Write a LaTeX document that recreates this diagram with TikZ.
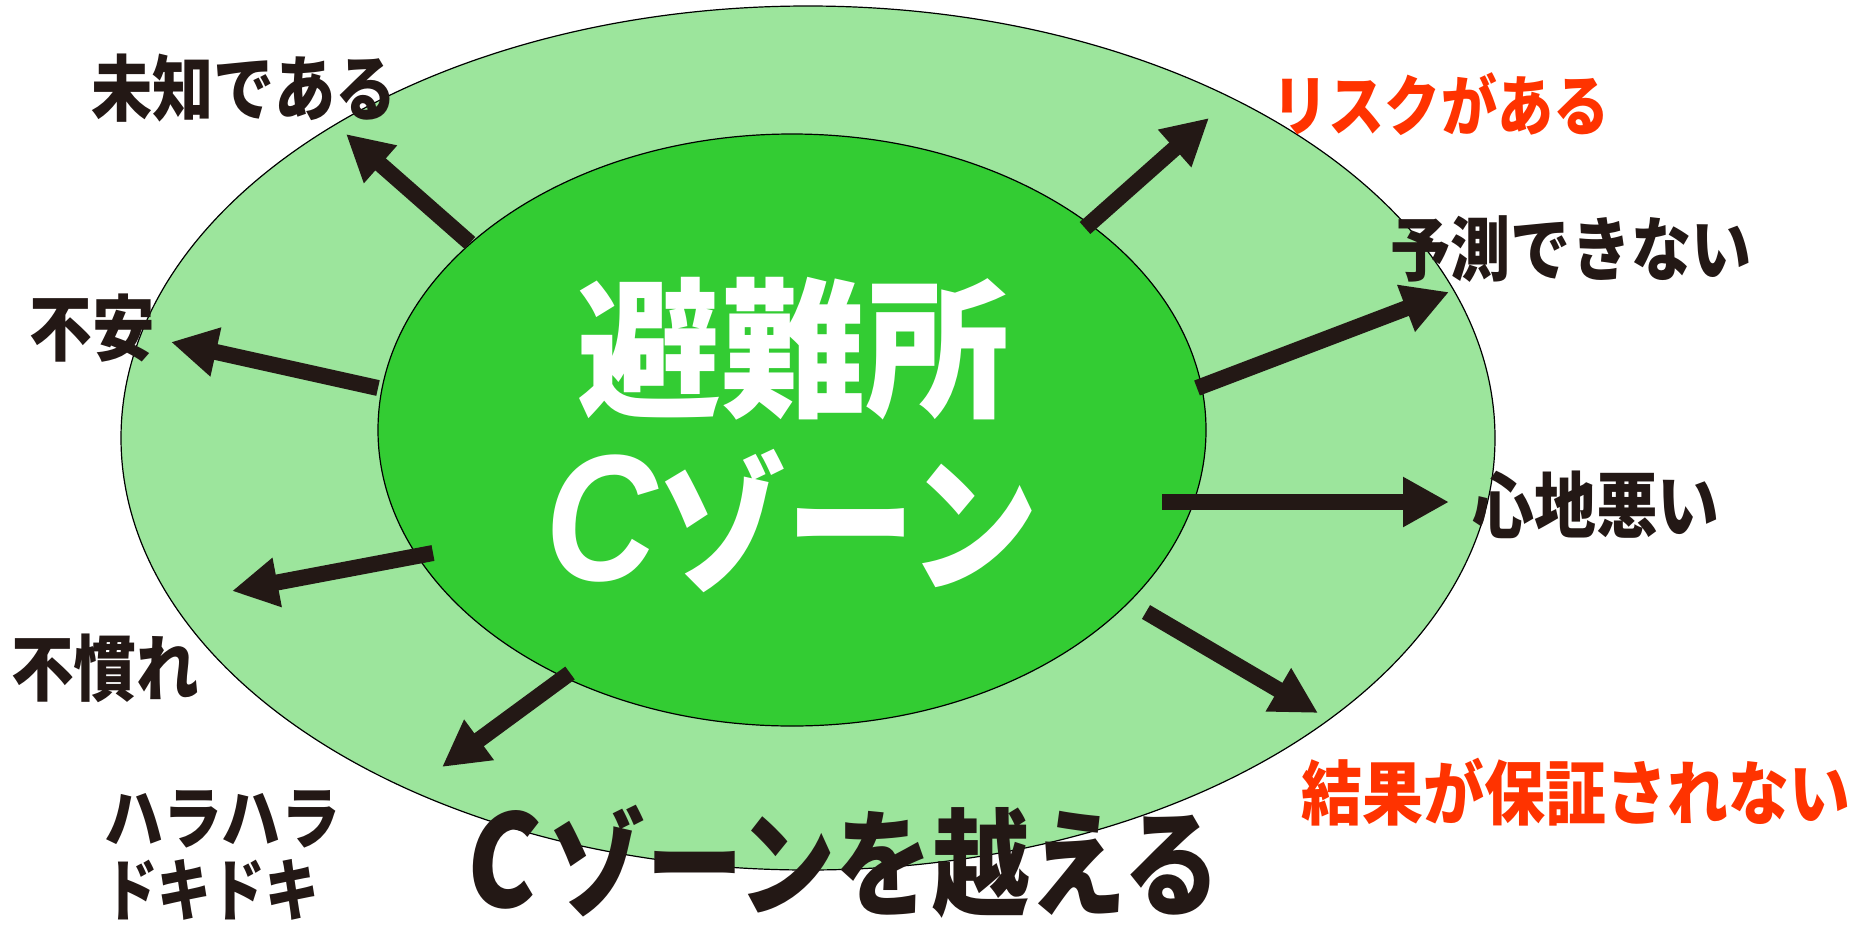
\documentclass[tikz,border=0pt]{standalone}
\usepackage{fontspec}
\usepackage{graphicx}
\usetikzlibrary{arrows.meta,shapes.geometric}
\newfontfamily\jp{Noto Sans CJK JP}
\newfontfamily\jpslant{Noto Sans CJK JP}[FakeSlant=0.12]
\newfontfamily\lat{Liberation Sans}
\definecolor{ink}{HTML}{231815}
\definecolor{redtxt}{HTML}{FF3300}
\definecolor{outerg}{HTML}{9CE59C}
\definecolor{innerg}{HTML}{33CC33}
\newcommand{\fs}[1]{\fontsize{#1}{#1}\selectfont}
\newcommand{\nar}[2]{\scalebox{#1}[1]{#2}}
\begin{document}
\begin{tikzpicture}[x=1pt,y=-1pt,
  lbl/.style={inner sep=0pt, text=ink, font=\jp\bfseries\fs{72}},
  redlbl/.style={lbl, text=redtxt},
  arr/.style={draw=ink, line width=16pt, -{Triangle[length=46pt,width=47pt]}},
  ring/.style={ellipse, draw=black, line width=1.2pt, inner sep=0pt}]
\useasboundingbox (0,0) rectangle (1859,927);
\fill[white] (0,0) rectangle (1859,927);
% ellipses
\node[ring, fill=outerg, minimum width=1374pt, minimum height=864pt] (outer) at (808,438) {};
\node[ring, fill=innerg, minimum width=828pt, minimum height=592pt] (inner) at (792,430) {};
% arrow coordinates
\coordinate (t1) at (470,243);  \coordinate (h1) at (346,134);
\coordinate (t2) at (1085,228); \coordinate (h2) at (1209,118);
\coordinate (t3) at (1197,388); \coordinate (h3) at (1449,292);
\coordinate (t4) at (1162,502); \coordinate (h4) at (1449,502);
\coordinate (t5) at (1146,612); \coordinate (h5) at (1318,713);
\coordinate (t6) at (570,673);  \coordinate (h6) at (442,767);
\coordinate (t7) at (433,553);  \coordinate (h7) at (232,591);
\coordinate (t8) at (378,388);  \coordinate (h8) at (171,342);
\foreach \i in {1,...,8} \draw[arr] (t\i) -- (h\i);
% center text
\node[inner sep=0pt, text=white, font=\jp\bfseries\fs{150}] (hinan) at (793,349) {\nar{0.96}{避難所}};
\node[inner sep=0pt, text=white, font=\jp\bfseries\fs{150}] (czone) at (792,521)
  {\nar{0.86}{{\lat\bfseries\itshape\fs{180}C}ゾーン}};
% labels
\node[lbl] (l1) at (244,88) {\nar{0.85}{未知である}};
\node[lbl] (l8) at (92,328) {\nar{0.87}{不安}};
\node[lbl] (l7) at (105,668) {\nar{0.87}{不慣れ}};
\node[lbl, font=\jp\bfseries\fs{68}, anchor=west] (l6a) at (104,819) {\nar{0.87}{ハラハラ}};
\node[lbl, font=\jp\bfseries\fs{68}, anchor=west] (l6b) at (104,890) {\nar{0.79}{ドキドキ}};
\node[redlbl, font=\jp\bfseries\fs{66}] (l2) at (1441,104) {\nar{0.85}{リスクがある}};
\node[lbl, font=\jp\bfseries\fs{70}] (l3) at (1571,249) {\nar{0.86}{予測できない}};
\node[lbl] (l4) at (1596,505) {\nar{0.86}{心地悪い}};
\node[redlbl, font=\jp\bfseries\fs{70}] (l5) at (1576,792) {\nar{0.87}{結果が保証されない}};
% bottom title
\node[lbl, font=\jp\bfseries\fs{117}] (title) at (842,862)
  {\nar{0.83}{{\jpslant\bfseries\fs{128}C}\kern18pt ゾーンを越える}};
\end{tikzpicture}
\end{document}
